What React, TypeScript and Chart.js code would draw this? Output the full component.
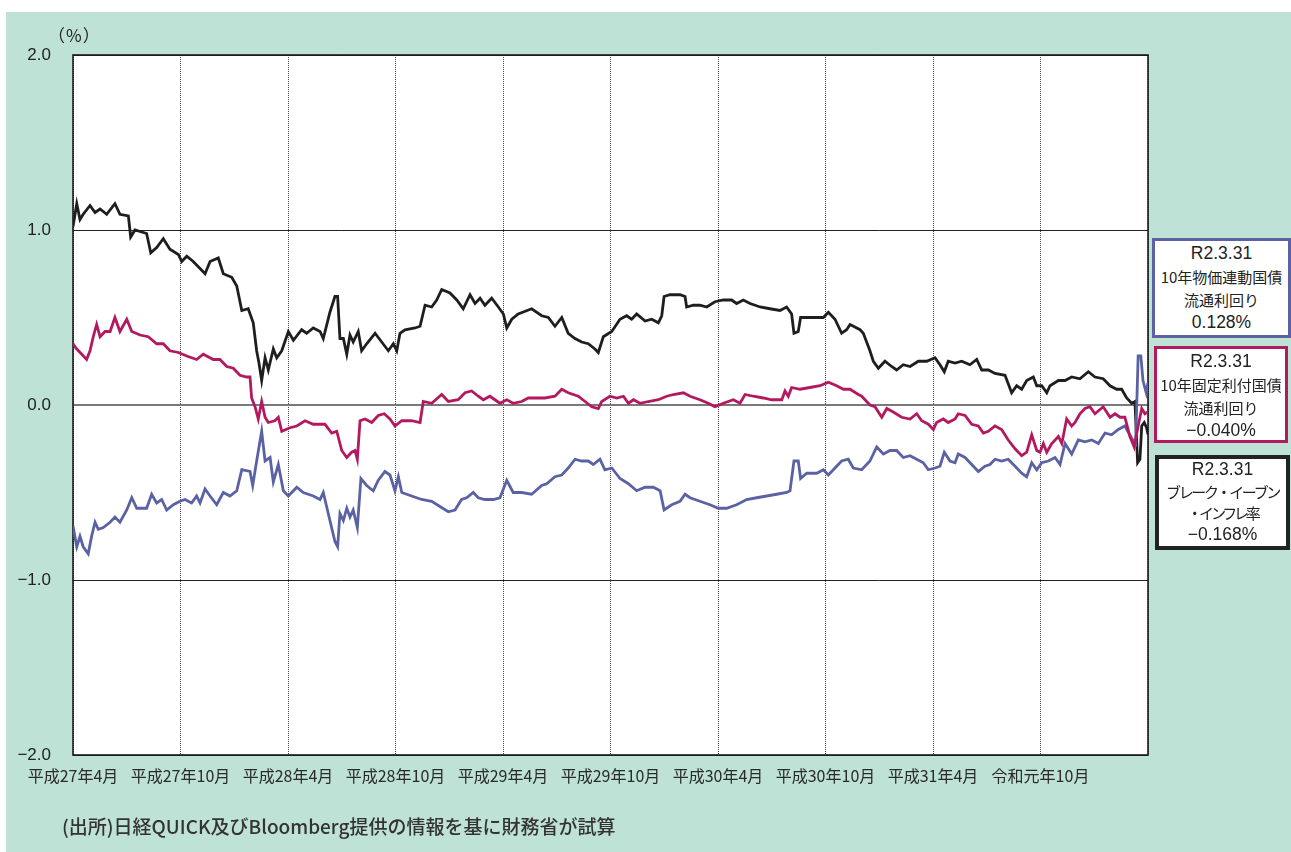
import React, { useEffect, useRef } from "react";
import { Chart, registerables } from "chart.js";

Chart.register(...registerables);

// x = months elapsed since 平成27年4月 (April 2015), y = percent
const xTickLabels = [
  "平成27年4月", "平成27年10月", "平成28年4月", "平成28年10月", "平成29年4月",
  "平成29年10月", "平成30年4月", "平成30年10月", "平成31年4月", "令和元年10月",
];

const breakEvenInflation: [number, number][] = [
  [0, 1.02], [0.21, 1.15], [0.39, 1.06], [0.57, 1.09], [0.95, 1.14], [1.23, 1.1], [1.51, 1.12], [1.88, 1.09],
  [2.34, 1.15], [2.62, 1.09], [3.09, 1.08], [3.22, 0.96], [3.46, 1.0], [4.11, 0.98], [4.34, 0.87], [4.67, 0.9],
  [5.04, 0.95], [5.41, 0.89], [5.88, 0.86], [6.07, 0.82], [6.35, 0.85], [6.71, 0.82], [7.09, 0.78], [7.37, 0.75],
  [7.65, 0.82], [8.11, 0.84], [8.39, 0.75], [8.86, 0.73], [9.14, 0.68], [9.42, 0.54], [9.78, 0.55], [10.06, 0.47],
  [10.25, 0.31], [10.38, 0.24], [10.53, 0.14], [10.72, 0.27], [10.9, 0.2], [11.18, 0.32], [11.37, 0.27], [11.65, 0.31],
  [12.02, 0.42], [12.3, 0.37], [12.76, 0.43], [13.04, 0.41], [13.41, 0.44], [13.79, 0.42], [13.97, 0.38], [14.34, 0.53],
  [14.62, 0.62], [14.77, 0.62], [14.9, 0.38], [15.09, 0.38], [15.28, 0.29], [15.46, 0.4], [15.64, 0.36], [15.92, 0.42],
  [16.11, 0.31], [16.39, 0.35], [16.86, 0.41], [17.23, 0.36], [17.6, 0.31], [17.88, 0.35], [18.07, 0.31], [18.25, 0.41],
  [18.53, 0.43], [19.09, 0.44], [19.37, 0.45], [19.65, 0.57], [20.02, 0.56], [20.3, 0.6], [20.58, 0.66], [21.04, 0.64],
  [21.42, 0.6], [21.78, 0.55], [22.16, 0.63], [22.44, 0.58], [22.72, 0.61], [22.99, 0.57], [23.37, 0.61], [23.74, 0.56],
  [24.02, 0.52], [24.21, 0.44], [24.49, 0.49], [24.85, 0.52], [25.6, 0.55], [26.16, 0.51], [26.53, 0.5], [26.9, 0.45],
  [27.28, 0.5], [27.64, 0.41], [28.02, 0.38], [28.39, 0.36], [28.76, 0.35], [29.13, 0.32], [29.32, 0.3], [29.6, 0.39],
  [30.07, 0.42], [30.53, 0.49], [30.9, 0.51], [31.18, 0.49], [31.46, 0.52], [31.93, 0.48], [32.3, 0.49], [32.67, 0.47],
  [32.86, 0.51], [32.99, 0.62], [33.32, 0.63], [33.88, 0.63], [34.16, 0.62], [34.25, 0.56], [34.62, 0.57], [34.99, 0.57],
  [35.37, 0.56], [35.83, 0.59], [36.3, 0.6], [36.76, 0.6], [37.04, 0.58], [37.41, 0.6], [37.79, 0.58], [38.35, 0.56],
  [38.9, 0.55], [39.46, 0.54], [39.83, 0.56], [40.11, 0.52], [40.24, 0.41], [40.48, 0.42], [40.61, 0.5], [41.13, 0.5],
  [41.51, 0.5], [41.88, 0.5], [42.16, 0.53], [42.53, 0.49], [42.9, 0.41], [43.18, 0.43], [43.37, 0.46], [43.93, 0.43],
  [44.11, 0.41], [44.48, 0.31], [44.67, 0.25], [44.95, 0.21], [45.32, 0.25], [45.69, 0.22], [45.97, 0.2], [46.34, 0.23],
  [46.72, 0.22], [47.18, 0.25], [47.65, 0.25], [48.11, 0.27], [48.39, 0.23], [48.63, 0.19], [48.85, 0.25], [49.23, 0.24],
  [49.6, 0.25], [50.06, 0.23], [50.44, 0.26], [50.72, 0.2], [51.09, 0.2], [51.46, 0.18], [52.02, 0.17], [52.39, 0.07],
  [52.67, 0.11], [52.95, 0.09], [53.23, 0.14], [53.6, 0.16], [53.79, 0.11], [54.07, 0.11], [54.35, 0.07], [54.53, 0.11],
  [55.0, 0.14], [55.37, 0.14], [55.74, 0.16], [56.2, 0.15], [56.67, 0.19], [57.04, 0.16], [57.5, 0.15], [57.88, 0.11],
  [58.25, 0.09], [58.53, 0.09], [58.81, 0.04], [59.09, 0.01], [59.27, 0.02], [59.42, -0.33], [59.55, -0.31], [59.65, -0.12],
  [59.79, -0.1], [59.92, -0.13], [60, -0.168],
];

const fixedRateYield: [number, number][] = [
  [0, 0.35], [0.21, 0.32], [0.49, 0.29], [0.76, 0.26], [0.95, 0.31], [1.13, 0.39], [1.32, 0.46], [1.51, 0.39],
  [1.79, 0.42], [2.07, 0.42], [2.34, 0.5], [2.62, 0.42], [3.0, 0.49], [3.28, 0.42], [3.74, 0.4], [4.2, 0.39],
  [4.67, 0.35], [5.04, 0.35], [5.41, 0.31], [5.88, 0.3], [6.35, 0.28], [6.9, 0.26], [7.27, 0.29], [7.83, 0.26],
  [8.2, 0.26], [8.58, 0.22], [8.95, 0.21], [9.32, 0.17], [9.69, 0.16], [9.88, 0.16], [9.97, 0.04], [10.16, -0.01],
  [10.34, -0.08], [10.53, 0.02], [10.72, -0.07], [10.9, -0.1], [11.27, -0.09], [11.46, -0.07], [11.65, -0.15], [12.11, -0.13],
  [12.49, -0.12], [12.95, -0.09], [13.41, -0.11], [13.79, -0.11], [14.06, -0.11], [14.44, -0.16], [14.72, -0.15], [15.0, -0.26],
  [15.28, -0.3], [15.55, -0.27], [15.74, -0.26], [15.87, -0.31], [16.02, -0.09], [16.3, -0.08], [16.67, -0.1], [17.04, -0.06],
  [17.37, -0.05], [17.69, -0.08], [17.97, -0.12], [18.35, -0.09], [18.9, -0.09], [19.37, -0.1], [19.55, 0.02], [20.02, 0.01],
  [20.58, 0.06], [20.95, 0.02], [21.5, 0.03], [21.88, 0.07], [22.25, 0.08], [22.62, 0.05], [22.9, 0.03], [23.27, 0.05],
  [23.55, 0.03], [23.83, 0.01], [24.21, 0.03], [24.57, 0.01], [25.04, 0.02], [25.41, 0.04], [25.97, 0.04], [26.34, 0.04],
  [26.9, 0.05], [27.28, 0.09], [27.64, 0.07], [28.2, 0.05], [28.58, 0.02], [28.95, -0.01], [29.32, -0.02], [29.51, 0.02],
  [29.97, 0.05], [30.35, 0.04], [30.72, 0.05], [31.0, 0.01], [31.28, 0.03], [31.65, 0.01], [32.11, 0.02], [32.67, 0.03],
  [33.14, 0.05], [33.51, 0.06], [34.07, 0.07], [34.44, 0.05], [34.99, 0.03], [35.46, 0.01], [35.83, -0.01], [36.3, 0.01],
  [36.85, 0.03], [37.23, 0.01], [37.51, 0.06], [37.97, 0.05], [38.53, 0.04], [39.0, 0.03], [39.56, 0.03], [39.74, 0.08],
  [39.92, 0.05], [40.11, 0.1], [40.58, 0.09], [41.13, 0.1], [41.69, 0.11], [42.16, 0.13], [42.62, 0.11], [43.0, 0.09],
  [43.37, 0.09], [43.83, 0.06], [44.02, 0.05], [44.48, 0.0], [44.76, -0.01], [45.14, -0.07], [45.42, -0.02], [45.78, -0.04],
  [46.25, -0.07], [46.72, -0.08], [47.09, -0.05], [47.37, -0.09], [47.74, -0.11], [48.02, -0.14], [48.2, -0.1], [48.57, -0.08],
  [48.85, -0.1], [49.23, -0.08], [49.41, -0.05], [49.79, -0.06], [50.16, -0.11], [50.53, -0.12], [50.81, -0.16], [51.09, -0.15],
  [51.46, -0.12], [51.83, -0.14], [52.2, -0.2], [52.58, -0.25], [52.95, -0.29], [53.23, -0.27], [53.51, -0.17], [53.79, -0.26],
  [53.97, -0.27], [54.16, -0.22], [54.35, -0.27], [54.63, -0.22], [55.0, -0.18], [55.19, -0.22], [55.46, -0.08], [55.74, -0.12],
  [55.93, -0.1], [56.2, -0.05], [56.48, -0.02], [56.76, -0.01], [57.04, -0.05], [57.5, -0.01], [57.88, -0.07], [58.16, -0.05],
  [58.44, -0.07], [58.71, -0.07], [58.99, -0.18], [59.23, -0.24], [59.45, -0.12], [59.65, -0.02], [59.83, -0.05], [60, -0.04],
];

const inflationIndexedYield: [number, number][] = [
  [0, -0.69], [0.21, -0.81], [0.39, -0.75], [0.57, -0.81], [0.85, -0.85], [1.04, -0.75], [1.23, -0.67], [1.41, -0.71],
  [1.69, -0.7], [2.07, -0.67], [2.34, -0.64], [2.62, -0.67], [3.0, -0.6], [3.28, -0.53], [3.56, -0.59], [4.11, -0.59],
  [4.39, -0.51], [4.67, -0.56], [4.95, -0.54], [5.23, -0.6], [5.6, -0.57], [5.97, -0.55], [6.25, -0.54], [6.62, -0.56],
  [6.9, -0.52], [7.09, -0.56], [7.37, -0.48], [7.65, -0.52], [8.02, -0.57], [8.39, -0.5], [8.76, -0.52], [9.14, -0.49],
  [9.42, -0.37], [9.88, -0.38], [10.03, -0.46], [10.25, -0.32], [10.53, -0.15], [10.72, -0.32], [11.0, -0.3], [11.18, -0.44],
  [11.46, -0.34], [11.74, -0.49], [12.02, -0.52], [12.49, -0.47], [12.85, -0.5], [13.41, -0.52], [13.79, -0.54], [13.97, -0.5],
  [14.34, -0.66], [14.62, -0.78], [14.77, -0.81], [14.9, -0.62], [15.09, -0.66], [15.28, -0.59], [15.46, -0.64], [15.64, -0.6],
  [15.87, -0.7], [16.07, -0.42], [16.39, -0.46], [16.76, -0.49], [17.04, -0.43], [17.41, -0.38], [17.69, -0.4], [17.97, -0.49],
  [18.16, -0.41], [18.35, -0.5], [18.9, -0.52], [19.46, -0.54], [20.02, -0.55], [20.48, -0.58], [20.95, -0.61], [21.32, -0.6],
  [21.69, -0.54], [21.97, -0.53], [22.34, -0.5], [22.62, -0.53], [22.99, -0.54], [23.46, -0.54], [23.83, -0.53], [24.21, -0.43],
  [24.57, -0.5], [25.04, -0.5], [25.6, -0.51], [26.16, -0.46], [26.44, -0.45], [26.9, -0.41], [27.28, -0.4], [27.64, -0.36],
  [28.02, -0.31], [28.39, -0.32], [28.76, -0.32], [29.04, -0.34], [29.41, -0.31], [29.69, -0.37], [30.07, -0.36], [30.53, -0.42],
  [31.0, -0.45], [31.46, -0.49], [31.93, -0.47], [32.39, -0.47], [32.77, -0.49], [32.99, -0.6], [33.42, -0.57], [33.88, -0.55],
  [34.16, -0.51], [34.44, -0.53], [34.99, -0.55], [35.55, -0.57], [36.02, -0.59], [36.48, -0.59], [37.04, -0.57], [37.6, -0.54],
  [38.16, -0.53], [38.72, -0.52], [39.27, -0.51], [39.83, -0.5], [40.02, -0.49], [40.24, -0.32], [40.48, -0.32], [40.61, -0.42],
  [40.95, -0.39], [41.51, -0.39], [41.88, -0.37], [42.16, -0.4], [42.53, -0.36], [42.9, -0.32], [43.27, -0.31], [43.55, -0.36],
  [44.02, -0.37], [44.48, -0.32], [44.86, -0.24], [45.23, -0.28], [45.6, -0.26], [45.97, -0.26], [46.34, -0.3], [46.72, -0.29],
  [47.09, -0.31], [47.46, -0.33], [47.74, -0.37], [48.11, -0.36], [48.39, -0.35], [48.63, -0.27], [48.95, -0.32], [49.23, -0.33],
  [49.41, -0.28], [49.79, -0.3], [50.16, -0.34], [50.53, -0.38], [50.9, -0.35], [51.18, -0.34], [51.46, -0.31], [51.83, -0.32],
  [52.2, -0.31], [52.58, -0.35], [52.95, -0.39], [53.23, -0.41], [53.51, -0.33], [53.79, -0.37], [54.07, -0.33], [54.44, -0.32],
  [54.81, -0.3], [55.09, -0.34], [55.37, -0.22], [55.74, -0.28], [56.11, -0.2], [56.48, -0.21], [56.86, -0.2], [57.23, -0.22],
  [57.6, -0.16], [57.97, -0.17], [58.34, -0.14], [58.71, -0.12], [59.09, -0.19], [59.31, -0.22], [59.45, 0.28], [59.6, 0.28],
  [59.72, 0.14], [59.9, 0.07], [60, 0.128],
];

const yTickValues = [-2, -1, 0, 1, 2];

const boxes = [
  { color: "#5b62a3", lines: ["R2.3.31", "10年物価連動国債", "流通利回り", "0.128%"], spacing: [0, 0, 0, 0], left: 1152, top: 238, width: 139, height: 100, bw: 3, lh: 23, pt: 1 },
  { color: "#b3195f", lines: ["R2.3.31", "10年固定利付国債", "流通利回り", "−0.040%"], spacing: [0, 0, 0, 0], left: 1154, top: 346, width: 134, height: 97, bw: 3, lh: 23, pt: 1 },
  { color: "#222222", lines: ["R2.3.31", "ブレーク・イーブン", "・インフレ率", "−0.168%"], spacing: [0, -2.3, -3.2, 0], left: 1155, top: 455, width: 135, height: 95, bw: 4, lh: 21.5, pt: 0 },
];

const toPoints = (arr: [number, number][]) => arr.map(([x, y]) => ({ x, y }));

const framePlugin = {
  id: "frame",
  beforeDraw(chart: any) {
    const { ctx, chartArea: a } = chart;
    ctx.save();
    ctx.fillStyle = "#ffffff";
    ctx.fillRect(a.left, a.top, a.right - a.left, a.bottom - a.top);
    ctx.restore();
  },
  beforeDatasetsDraw(chart: any) {
    const { ctx, chartArea: a } = chart;
    ctx.save();
    ctx.strokeStyle = "#1a1a1a";
    ctx.lineWidth = 1.6;
    ctx.strokeRect(a.left, a.top, a.right - a.left, a.bottom - a.top);
    ctx.restore();
  },
};

function LineChart() {
  const ref = useRef<HTMLCanvasElement | null>(null);
  useEffect(() => {
    if (!ref.current) return;
    const chart = new Chart(ref.current, {
      type: "line",
      data: {
        datasets: [
          { label: "10年固定利付国債流通利回り", data: toPoints(fixedRateYield), borderColor: "#b3195f", borderWidth: 2.8, pointRadius: 0, tension: 0 },
          { label: "10年物価連動国債流通利回り", data: toPoints(inflationIndexedYield), borderColor: "#5b62a3", borderWidth: 2.8, pointRadius: 0, tension: 0 },
          { label: "ブレーク・イーブン・インフレ率", data: toPoints(breakEvenInflation), borderColor: "#1e1e1e", borderWidth: 2.8, pointRadius: 0, tension: 0 },
        ],
      },
      options: {
        animation: false,
        responsive: false,
        maintainAspectRatio: false,
        layout: { padding: { left: 0, right: 143, top: 55, bottom: 57 } },
        plugins: { legend: { display: false }, tooltip: { enabled: false } },
        scales: {
          x: {
            type: "linear",
            min: 0,
            max: 60,
            afterFit: (s: any) => { s.height = 40; },
            afterBuildTicks: (s: any) => { s.ticks = [0, 6, 12, 18, 24, 30, 36, 42, 48, 54, 60].map((v) => ({ value: v })); },
            ticks: {
              autoSkip: false,
              maxRotation: 0,
              minRotation: 0,
              padding: 11,
              color: "#2a2a2a",
              font: { family: "'Noto Sans CJK JP', sans-serif", size: 16 },
              callback: (v: any) => xTickLabels[Math.round(Number(v) / 6)] ?? "",
            },
            grid: { color: "#444444", lineWidth: 1, drawTicks: false },
            border: { display: false, dash: [1, 1] },
          },
          y: {
            min: -2,
            max: 2,
            afterFit: (s: any) => { s.width = 73; },
            afterBuildTicks: (s: any) => { s.ticks = yTickValues.map((v) => ({ value: v })); },
            ticks: {
              padding: 22,
              color: "#222222",
              font: { family: "'Liberation Sans', Arial, sans-serif", size: 17 },
              callback: (v: any) => (Number(v) < 0 ? "−" + Math.abs(Number(v)).toFixed(1) : Number(v).toFixed(1)),
            },
            grid: {
              drawTicks: false,
              color: (c: any) => (c.tick && c.tick.value === 0 ? "#7a7a7a" : "#222222"),
              lineWidth: (c: any) => (c.tick && c.tick.value === 0 ? 2 : 1),
            },
            border: { display: false },
          },
        },
      },
      plugins: [framePlugin],
    });
    return () => chart.destroy();
  }, []);
  return <canvas ref={ref} width={1291} height={852} style={{ position: "absolute", left: 0, top: 0, width: 1291, height: 852 }} />;
}

export default function App() {
  return (
    <div style={{ position: "absolute", left: 0, top: 0, width: 1291, height: 852, background: "#ffffff", overflow: "hidden" }}>
      <div style={{ position: "absolute", left: 6, top: 12, width: 1285, height: 840, background: "#bfe2d6" }} />
      <LineChart />
      <div style={{ position: "absolute", left: 48, top: 23, fontFamily: "'Noto Sans CJK JP', sans-serif", fontSize: 17, lineHeight: "24px", letterSpacing: 1, color: "#222" }}>（%）</div>
      {boxes.map((b, i) => (
        <div key={i} style={{ position: "absolute", left: b.left, top: b.top, width: b.width, height: b.height, boxSizing: "border-box", border: `${b.bw}px solid ${b.color}`, background: "#ffffff", paddingTop: b.pt, textAlign: "center", color: "#222" }}>
          {b.lines.map((t, j) => (
            <div key={j} style={{ lineHeight: `${b.lh}px`, height: b.lh, whiteSpace: "nowrap", letterSpacing: b.spacing[j], fontFamily: j === 0 || j === 3 ? "'Liberation Sans', Arial, sans-serif" : "'Noto Sans CJK JP', sans-serif", fontSize: j === 0 || j === 3 ? 17.5 : 15 }}>{t}</div>
          ))}
        </div>
      ))}
      <div style={{ position: "absolute", left: 62, top: 814, fontFamily: "'Noto Sans CJK JP', sans-serif", fontSize: 19, fontWeight: 500, lineHeight: "24px", color: "#333", whiteSpace: "nowrap" }}>(出所)日経QUICK及びBloomberg提供の情報を基に財務省が試算</div>
    </div>
  );
}
